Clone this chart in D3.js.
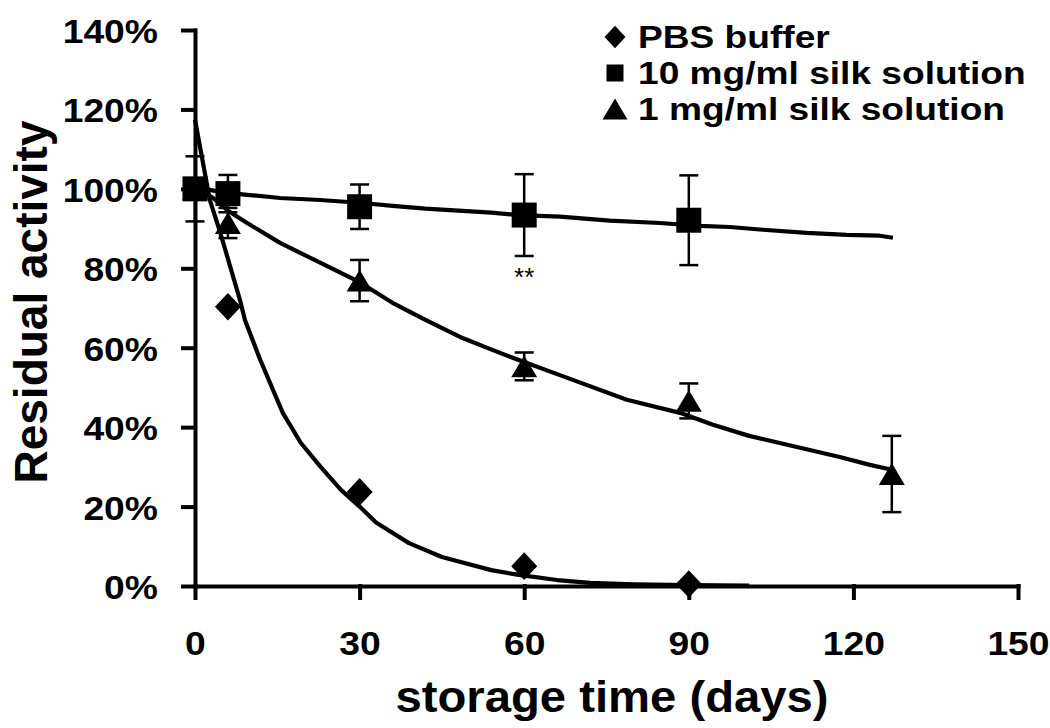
<!DOCTYPE html>
<html>
<head>
<meta charset="utf-8">
<script src="https://cdn.jsdelivr.net/npm/d3@7"></script>
<style>
  body { margin: 0; background: #fff; }
  svg text { font-family: "Liberation Sans", Arial, Helvetica, sans-serif; fill: #000; }
</style>
</head>
<body>
<div id="chart"></div>
<script>
// ---- data ----
const days = [0, 6, 30, 60, 90, 127];
const pbsValues = [1.00, 0.703, 0.237, 0.050, 0.005];
const silk10Values = [1.00, 0.988, 0.955, 0.934, 0.921];
const silk10Err = [0.082, 0.047, 0.056, 0.103, 0.113];
const silk1Values = [1.00, 0.914, 0.769, 0.553, 0.466, 0.282];
const silk1Err = [0, 0.038, 0.052, 0.035, 0.044, 0.096];

// trend lines [day, fraction]
const pbsTrend = [[0, 1.174], [2.7, 0.972], [4.6, 0.89], [8.2, 0.72], [9.1, 0.67], [11.9, 0.569],
  [16, 0.436], [19.3, 0.36], [22.9, 0.30], [26.6, 0.242], [30, 0.20], [33, 0.16], [39, 0.108],
  [45, 0.073], [54, 0.04], [59, 0.028], [66, 0.015], [72, 0.008], [80, 0.004], [90, 0.002], [101, 0.001]];
const silk10Trend = [[0, 1.003], [6, 0.99], [9.5, 0.985], [15.5, 0.977], [22.8, 0.972], [30, 0.965],
  [36, 0.957], [42, 0.95], [54, 0.94], [59, 0.934], [66.5, 0.93], [75.6, 0.92], [84.7, 0.914],
  [92, 0.907], [97.5, 0.904], [103.5, 0.897], [111.5, 0.889], [118.8, 0.884], [124.8, 0.882], [127.2, 0.877]];
const silk1Trend = [[0, 1.0], [3.3, 0.977], [6, 0.945], [9.5, 0.914], [15.5, 0.864], [22.8, 0.814],
  [30, 0.765], [36, 0.713], [42, 0.67], [48.3, 0.627], [54.3, 0.594], [59, 0.569], [66.5, 0.531],
  [78.7, 0.469], [88.4, 0.436], [94.4, 0.406], [101, 0.378], [109.7, 0.35], [117.5, 0.325],
  [123, 0.305], [127.2, 0.292]];

const xTicks = [0, 30, 60, 90, 120, 150];
const yTicks = [0, 0.2, 0.4, 0.6, 0.8, 1.0, 1.2, 1.4];
const legendLabels = ["PBS buffer", "10 mg/ml silk solution", "1 mg/ml silk solution"];
const legendShapes = ["diamond", "square", "triangle"];

// ---- layout ----
const width = 1050, height = 728;
const SX = 1.13; // glyphs in the picture are a bit wide

const svg = d3.select("#chart").append("svg")
  .attr("width", width).attr("height", height);

const xScale = d3.scaleLinear().domain([0, 150]).range([195, 1018]);
const yScale = d3.scaleLinear().domain([0, 1.4]).range([586, 30]);

// marker paths centred on their bounding box
const shapePath = (shape, s) => {
  const h = s / 2;
  if (shape === "square") return `M${-h},${-h}H${h}V${h}H${-h}Z`;
  if (shape === "diamond") return `M0,${-h * 1.06}L${h},0L0,${h * 1.06}L${-h},0Z`;
  const th = s * 0.84 / 2;
  return `M0,${-th}L${h},${th}L${-h},${th}Z`;
};

// ---- axes ----
const yAxis = d3.axisLeft(yScale)
  .tickValues(yTicks)
  .tickFormat(d3.format(".0%"))
  .tickSize(12).tickSizeOuter(0);

const gy = svg.append("g")
  .attr("transform", `translate(${xScale(0)},0)`)
  .call(yAxis);
gy.selectAll("text")
  .attr("x", -37 / SX)
  .attr("dy", "0.38em")
  .attr("transform", `scale(${SX},1)`)
  .style("font-size", "33px").style("font-weight", "bold");

const xAxis = d3.axisBottom(xScale)
  .tickValues(xTicks)
  .tickSize(12).tickSizeOuter(0).tickPadding(34);

const gx = svg.append("g")
  .attr("transform", `translate(0,${yScale(0)})`)
  .call(xAxis);
gx.selectAll("text")
  .attr("transform", `scale(${SX},1)`)
  .style("font-size", "33px").style("font-weight", "bold");

svg.selectAll(".domain, .tick line")
  .attr("stroke", "#000").attr("stroke-width", 4).attr("stroke-linecap", "square");

// axis titles
svg.append("text")
  .text("storage time (days)")
  .attr("text-anchor", "middle")
  .attr("transform", `translate(612,712) scale(1.05,1)`)
  .style("font-size", "45px").style("font-weight", "bold");

svg.append("text")
  .text("Residual activity")
  .attr("text-anchor", "middle")
  .attr("transform", "translate(47,302) rotate(-90)")
  .style("font-size", "46px").style("font-weight", "bold");

// ---- trend lines ----
const line = d3.line().x(d => xScale(d[0])).y(d => yScale(d[1]));
[pbsTrend, silk10Trend, silk1Trend].forEach(tr => {
  svg.append("path")
    .attr("d", line(tr))
    .attr("fill", "none").attr("stroke", "#000")
    .attr("stroke-width", 4.2).attr("stroke-linejoin", "round");
});

// ---- error bars ----
const drawErrors = (vals, errs) => {
  const rows = vals.map((v, i) => ({ x: days[i], v, e: errs[i] })).filter(d => d.e > 0);
  const g = svg.append("g").attr("stroke", "#000").attr("stroke-width", 2.5);
  g.selectAll(".stem").data(rows).join("line")
    .attr("x1", d => xScale(d.x)).attr("x2", d => xScale(d.x))
    .attr("y1", d => yScale(d.v - d.e)).attr("y2", d => yScale(d.v + d.e));
  g.selectAll(".capT").data(rows).join("line")
    .attr("x1", d => xScale(d.x) - 9.5).attr("x2", d => xScale(d.x) + 9.5)
    .attr("y1", d => yScale(d.v + d.e)).attr("y2", d => yScale(d.v + d.e));
  g.selectAll(".capB").data(rows).join("line")
    .attr("x1", d => xScale(d.x) - 9.5).attr("x2", d => xScale(d.x) + 9.5)
    .attr("y1", d => yScale(d.v - d.e)).attr("y2", d => yScale(d.v - d.e));
};
drawErrors(silk1Values, silk1Err);
drawErrors(silk10Values, silk10Err);

// ---- markers ----
const drawMarkers = (vals, shape, size) => {
  svg.append("g").selectAll("path")
    .data(vals.map((v, i) => ({ x: days[i], v })))
    .join("path")
    .attr("d", shapePath(shape, size))
    .attr("transform", d => `translate(${xScale(d.x)},${yScale(d.v)})`)
    .attr("fill", "#000");
};
drawMarkers(pbsValues, "diamond", 26);
drawMarkers(silk1Values, "triangle", 26);
drawMarkers(silk10Values, "square", 25);

// significance mark under the 60-day square
svg.append("text")
  .text("**")
  .attr("x", xScale(60))
  .attr("y", 286)
  .attr("text-anchor", "middle")
  .style("font-size", "26px");

// ---- legend ----
const legend = svg.append("g");
const legendSizes = [21, 17, 25];
legendLabels.forEach((lab, i) => {
  const cy = 37 + i * 36;
  legend.append("path")
    .attr("d", shapePath(legendShapes[i], legendSizes[i]))
    .attr("transform", `translate(615,${cy})`)
    .attr("fill", "#000");
  legend.append("text")
    .text(lab)
    .attr("transform", `translate(638,${cy + 11}) scale(1.16,1)`)
    .style("font-size", "32px").style("font-weight", "bold");
});
</script>
</body>
</html>
